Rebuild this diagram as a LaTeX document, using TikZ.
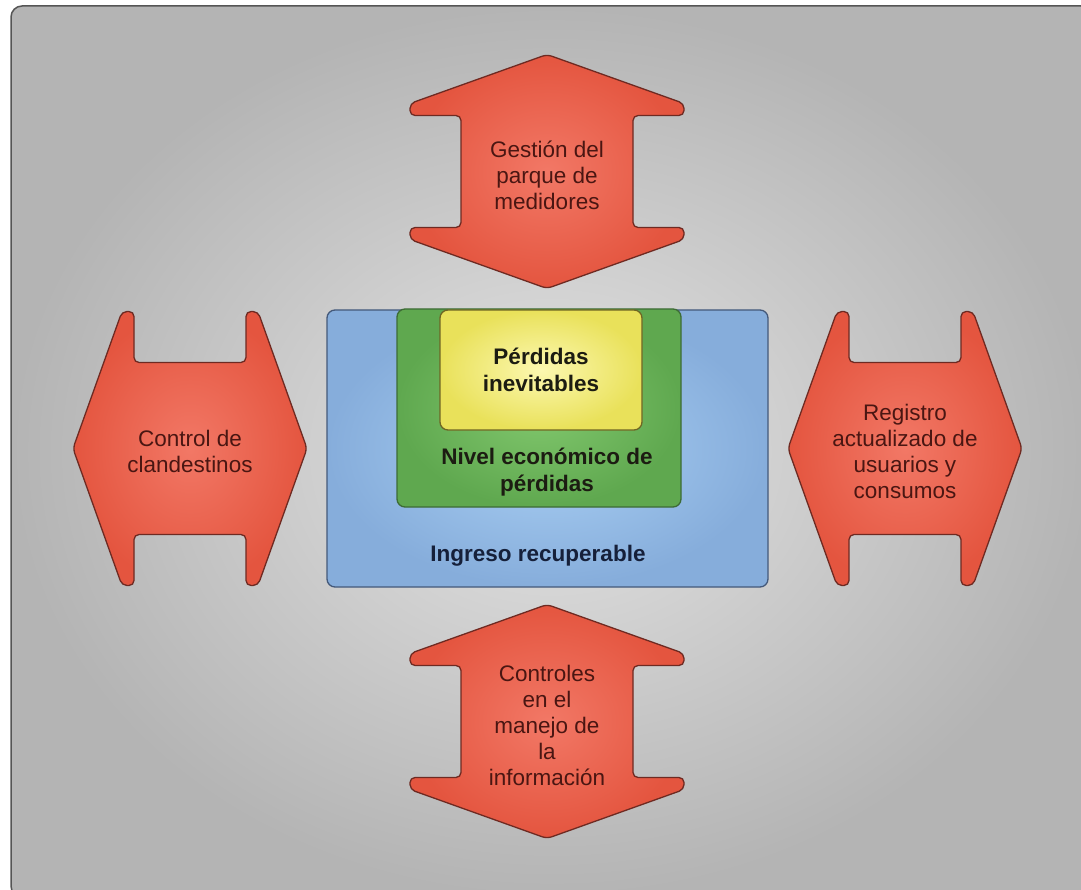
\documentclass[tikz,border=0pt]{standalone}
\usepackage{fontspec}
\setmainfont{Liberation Sans}
\definecolor{framefill}{HTML}{E4E4E4}
\definecolor{frameedge}{HTML}{B4B4B4}
\definecolor{frameline}{HTML}{555555}
\definecolor{arrowin}{HTML}{F27866}
\definecolor{arrowout}{HTML}{E4553F}
\definecolor{arrowline}{HTML}{6E2A22}
\definecolor{arrowtext}{HTML}{4A1612}
\definecolor{bluein}{HTML}{AAD0F4}
\definecolor{blueout}{HTML}{86ADDB}
\definecolor{blueline}{HTML}{44597A}
\definecolor{greenin}{HTML}{82C86E}
\definecolor{greenout}{HTML}{5FA84F}
\definecolor{greenline}{HTML}{3D6B35}
\definecolor{yellowin}{HTML}{FCF8B0}
\definecolor{yellowout}{HTML}{E9E15A}
\definecolor{yellowline}{HTML}{6E6624}
\definecolor{boxtext}{HTML}{1C1C12}
\definecolor{navytext}{HTML}{16203A}
\begin{document}
\begin{tikzpicture}[x=1pt,y=-1pt,
  redtext/.style={align=center, text=arrowtext, font=\fontsize{22.5}{26}\selectfont, inner sep=0pt},
  boldtext/.style={align=center, text=boxtext, font=\fontsize{22.5}{27}\selectfont\bfseries, inner sep=0pt},
  arrowbody/.style={draw=arrowline, line width=1.3pt, rounded corners=5pt, inner color=arrowin, outer color=arrowout},
  dblarrow/.pic={
    \shadedraw[arrowbody]
      (0,-117) -- (137,-68) -- (137,-56) -- (86,-56) -- (86,56) -- (137,56) -- (137,68)
      -- (0,117) -- (-137,68) -- (-137,56) -- (-86,56) -- (-86,-56) -- (-137,-56) -- (-137,-68) -- cycle;
  },
  panel/.style={rounded corners=8pt, line width=1.3pt}
]
\useasboundingbox (0,0) rectangle (1081,890);

% grey frame
\shadedraw[rounded corners=11pt, draw=frameline, line width=1.5pt, inner color=framefill, outer color=frameedge]
  (11,6) rectangle (1092,897);

% four double-headed arrows
\pic at (547,171.5) {dblarrow};
\pic at (547,721.5) {dblarrow};
\pic[rotate=90] at (190,448.5) {dblarrow};
\pic[rotate=90] at (905,448.5) {dblarrow};

% nested panels
\shadedraw[panel, draw=blueline, inner color=bluein, outer color=blueout] (327,310) rectangle (768,587);
\shadedraw[panel, draw=greenline, inner color=greenin, outer color=greenout] (397,309) rectangle (681,507);
\shadedraw[panel, draw=yellowline, inner color=yellowin, outer color=yellowout] (440,310) rectangle (642,430);

% labels
\node[redtext] (gestion) at (547,175) {Gestión del\\parque de\\medidores};
\node[redtext] (clandestinos) at (190,451) {Control de\\clandestinos};
\node[redtext] (registro) at (905,451) {Registro\\actualizado de\\usuarios y\\consumos};
\node[redtext] (informacion) at (547,725) {Controles\\en el\\manejo de\\la\\información};
\node[boldtext] (inevitables) at (541,370) {Pérdidas\\inevitables};
\node[boldtext] (nivel) at (547,472) {Nivel económico de\\pérdidas};
\node[boldtext, text=navytext] (ingreso) at (538,556) {Ingreso recuperable};
\end{tikzpicture}
\end{document}
